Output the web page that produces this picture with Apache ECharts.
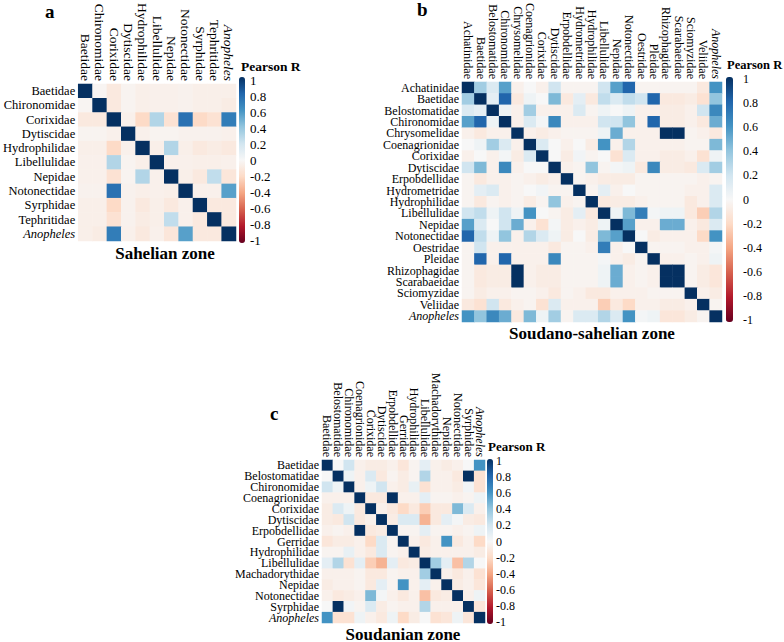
<!DOCTYPE html>
<html>
<head>
<meta charset="utf-8">
<title>Pearson R heatmaps</title>
<script src="https://cdn.jsdelivr.net/npm/echarts@6/dist/echarts.min.js"></script>
<style>
  html, body { margin: 0; padding: 0; background: #fff; }
  #main { width: 784px; height: 642px; }
</style>
</head>
<body>
<div id="main"></div>
<script>
// taxa names per zone
var sahelianTaxa = ['Baetidae', 'Chironomidae', 'Corixidae', 'Dytiscidae', 'Hydrophilidae', 'Libellulidae',
    'Nepidae', 'Notonectidae', 'Syrphidae', 'Tephritidae', 'Anopheles'];
var soudanoSahelianTaxa = ['Achatinidae', 'Baetidae', 'Belostomatidae', 'Chironomidae', 'Chrysomelidae',
    'Coenagrionidae', 'Corixidae', 'Dytiscidae', 'Erpobdellidae', 'Hydrometridae', 'Hydrophilidae',
    'Libellulidae', 'Nepidae', 'Notonectidae', 'Oestridae', 'Pleidae', 'Rhizophagidae', 'Scarabaeidae',
    'Sciomyzidae', 'Veliidae', 'Anopheles'];
var soudanianTaxa = ['Baetidae', 'Belostomatidae', 'Chironomidae', 'Coenagrionidae', 'Corixidae', 'Dytiscidae',
    'Erpobdellidae', 'Gerridae', 'Hydrophilidae', 'Libellulidae', 'Machadorythidae', 'Nepidae',
    'Notonectidae', 'Syrphidae', 'Anopheles'];

// Pearson R matrices (rows = taxa, same order as columns)
var sahelianR = [
    [1, -0.02, -0.1, -0.03, -0.06, -0.05, -0.05, -0.04, -0.06, -0.06, -0.06],
    [-0.02, 1, -0.1, -0.03, -0.06, -0.05, -0.05, -0.04, -0.06, -0.06, -0.08],
    [-0.1, -0.1, 1, -0.05, -0.2, 0.3, -0.15, 0.75, -0.2, -0.15, 0.7],
    [-0.03, -0.03, -0.05, 1, -0.05, -0.03, -0.03, -0.04, -0.04, -0.04, -0.05],
    [-0.06, -0.06, -0.2, -0.05, 1, -0.06, 0.3, -0.06, -0.1, -0.08, -0.1],
    [-0.05, -0.05, 0.3, -0.03, -0.06, 1, -0.05, -0.05, -0.06, -0.06, -0.05],
    [-0.05, -0.05, -0.15, -0.03, 0.3, -0.05, 1, -0.06, -0.1, 0.25, -0.12],
    [-0.04, -0.04, 0.75, -0.04, -0.06, -0.05, -0.06, 1, -0.05, -0.05, 0.55],
    [-0.06, -0.06, -0.2, -0.04, -0.1, -0.06, -0.1, -0.05, 1, -0.1, -0.1],
    [-0.06, -0.06, -0.15, -0.04, -0.08, -0.06, 0.25, -0.05, -0.1, 1, -0.1],
    [-0.06, -0.08, 0.7, -0.05, -0.1, -0.05, -0.12, 0.55, -0.1, -0.1, 1]
];
var soudanoSahelianR = [
    [1, 0.35, 0.15, 0.55, -0.05, 0, -0.05, 0.2, -0.03, -0.03, -0.03, 0.2, 0.55, 0.8, -0.03, -0.03, -0.03, -0.03, -0.03, -0.1, 0.6],
    [0.35, 1, 0.1, 0.8, -0.1, 0.05, 0, 0.45, -0.1, 0.1, -0.1, 0.25, 0.15, 0.25, 0.2, 0.8, -0.1, -0.1, -0.08, -0.15, 0.4],
    [0.15, 0.1, 1, 0.05, -0.05, 0.35, -0.05, -0.05, -0.05, 0.15, -0.03, 0.05, 0, 0.05, -0.05, -0.05, -0.08, -0.08, -0.05, 0.2, 0.65],
    [0.55, 0.8, 0.05, 1, -0.05, 0.15, 0.02, 0.65, -0.05, -0.05, -0.05, 0.2, 0.2, 0.4, -0.05, 0.8, -0.08, -0.08, -0.05, -0.1, 0.5],
    [-0.05, -0.1, -0.05, -0.05, 1, -0.05, -0.08, -0.05, -0.03, -0.03, -0.03, 0.05, 0.5, -0.05, -0.05, -0.05, 1, 1, -0.03, -0.05, -0.1],
    [0, 0.05, 0.35, 0.15, -0.05, 1, 0.15, 0, -0.05, 0, -0.08, 0.6, -0.05, 0.3, -0.05, -0.05, -0.05, -0.05, -0.03, -0.03, 0.45],
    [-0.05, 0, -0.05, 0.02, -0.08, 0.15, 1, 0, -0.08, 0.03, -0.03, 0, -0.15, 0.15, -0.05, -0.05, -0.08, -0.08, -0.05, -0.15, 0.05],
    [0.2, 0.45, -0.05, 0.65, -0.05, 0, 0, 1, -0.05, -0.03, 0.4, -0.03, 0.02, 0.05, -0.1, 0.65, -0.08, -0.08, -0.1, 0.15, 0.35],
    [-0.03, -0.1, -0.05, -0.05, -0.03, -0.05, -0.08, -0.05, 1, -0.03, -0.05, -0.08, -0.08, -0.08, -0.03, -0.03, -0.03, -0.03, -0.03, -0.05, -0.03],
    [-0.03, 0.1, 0.15, -0.05, -0.03, 0, 0.03, -0.03, -0.03, 1, -0.03, 0.1, -0.05, 0, -0.03, -0.03, -0.03, -0.03, -0.05, -0.05, 0.15],
    [-0.03, -0.1, -0.03, -0.05, -0.03, -0.08, -0.03, 0.4, -0.05, -0.03, 1, -0.1, -0.08, -0.08, -0.05, -0.03, -0.03, -0.03, -0.1, -0.05, 0.15],
    [0.2, 0.25, 0.05, 0.2, 0.05, 0.6, 0, -0.03, -0.08, 0.1, -0.1, 1, 0.05, 0.45, 0.7, 0.02, 0.05, 0.05, -0.1, -0.25, 0.3],
    [0.55, 0.15, 0, 0.2, 0.5, -0.05, -0.15, 0.02, -0.08, -0.05, -0.08, 0.05, 1, 0.55, -0.05, -0.05, 0.5, 0.5, -0.05, -0.1, 0.15],
    [0.8, 0.25, 0.05, 0.4, -0.05, 0.3, 0.15, 0.05, -0.08, 0, -0.08, 0.45, 0.55, 1, 0, -0.08, -0.05, -0.05, -0.05, -0.2, 0.6],
    [-0.03, 0.2, -0.05, -0.05, -0.05, -0.05, -0.05, -0.1, -0.03, -0.03, -0.05, 0.7, -0.05, 0, 1, -0.03, -0.03, -0.03, -0.05, -0.05, 0.02],
    [-0.03, 0.8, -0.05, 0.8, -0.05, -0.05, -0.05, 0.65, -0.03, -0.03, -0.03, 0.02, -0.05, -0.08, -0.03, 1, -0.05, -0.05, -0.03, -0.05, 0.05],
    [-0.03, -0.1, -0.08, -0.08, 1, -0.05, -0.08, -0.08, -0.03, -0.03, -0.03, 0.05, 0.5, -0.05, -0.03, -0.05, 1, 1, -0.03, -0.08, -0.12],
    [-0.03, -0.1, -0.08, -0.08, 1, -0.05, -0.08, -0.08, -0.03, -0.03, -0.03, 0.05, 0.5, -0.05, -0.03, -0.05, 1, 1, -0.03, -0.08, -0.12],
    [-0.03, -0.08, -0.05, -0.05, -0.03, -0.03, -0.05, -0.1, -0.03, -0.05, -0.1, -0.1, -0.05, -0.05, -0.05, -0.03, -0.03, -0.03, 1, -0.05, -0.08],
    [-0.1, -0.15, 0.2, -0.1, -0.05, -0.03, -0.15, 0.15, -0.05, -0.05, -0.05, -0.25, -0.1, -0.2, -0.05, -0.05, -0.08, -0.08, -0.05, 1, -0.03],
    [0.6, 0.4, 0.65, 0.5, -0.1, 0.45, 0.05, 0.35, -0.03, 0.15, 0.15, 0.3, 0.15, 0.6, 0.02, 0.05, -0.12, -0.12, -0.08, -0.03, 1]
];
var soudanianR = [
    [1, 0, 0.2, -0.05, -0.08, -0.08, -0.05, -0.12, -0.03, 0.1, -0.05, -0.08, -0.05, 0, 0.6],
    [0, 1, 0.05, -0.05, 0.15, -0.1, -0.03, -0.08, -0.03, 0.3, -0.05, -0.05, -0.1, 1, -0.15],
    [0.2, 0.05, 1, -0.05, 0.05, 0.2, -0.05, -0.08, 0.08, -0.15, -0.05, -0.05, -0.08, 0.03, -0.15],
    [-0.05, -0.05, -0.05, 1, -0.1, -0.1, 1, -0.05, -0.05, 0.1, -0.03, -0.03, -0.05, -0.03, 0.05],
    [-0.08, 0.15, 0.05, -0.1, 1, -0.05, -0.1, -0.2, -0.1, -0.25, -0.1, -0.1, 0.45, 0.15, -0.05],
    [-0.08, -0.1, 0.2, -0.1, -0.05, 1, -0.08, 0.15, 0.15, -0.35, -0.1, 0.1, 0.02, -0.08, -0.1],
    [-0.05, -0.03, -0.05, 1, -0.1, -0.08, 1, -0.03, -0.03, 0.1, -0.03, -0.03, -0.05, -0.03, 0.05],
    [-0.12, -0.08, -0.08, -0.05, -0.2, 0.15, -0.03, 1, -0.05, -0.1, -0.05, 0.6, -0.1, -0.05, -0.2],
    [-0.03, -0.03, 0.08, -0.05, -0.1, 0.15, -0.03, -0.05, 1, -0.08, -0.05, -0.05, -0.05, -0.05, -0.08],
    [0.1, 0.3, -0.15, 0.1, -0.25, -0.35, 0.1, -0.1, -0.08, 1, 0.35, 0.1, -0.3, 0.3, 0],
    [-0.05, -0.05, -0.05, -0.03, -0.1, -0.1, -0.03, -0.05, -0.05, 0.35, 1, -0.05, -0.1, -0.05, -0.15],
    [-0.08, -0.05, -0.05, -0.03, -0.1, 0.1, -0.03, 0.6, -0.05, 0.1, -0.05, 1, -0.08, -0.05, -0.12],
    [-0.05, -0.1, -0.08, -0.05, 0.45, 0.02, -0.05, -0.1, -0.05, -0.3, -0.1, -0.08, 1, -0.05, 0.05],
    [0, 1, 0.03, -0.03, 0.15, -0.08, -0.03, -0.05, -0.05, 0.3, -0.05, -0.05, -0.05, 1, -0.12],
    [0.6, -0.15, -0.15, 0.05, -0.05, -0.1, 0.05, -0.2, -0.08, 0, -0.15, -0.12, 0.05, -0.12, 1]
];

var zoneTitles = ['Sahelian zone', 'Soudano-sahelian zone', 'Soudanian zone'];
var panelLetters = ['a', 'b', 'c'];
var colorbarTitle = 'Pearson R';
var rdBu = ['#67001f', '#b2182b', '#d6604d', '#f4a582', '#fddbc7', '#f7f7f7',
    '#d1e5f0', '#92c5de', '#4393c3', '#2166ac', '#053061'];

var serif = 'Liberation Serif';

// matrix -> [x, y, value]
function toCells(m) {
    var out = [];
    for (var i = 0; i < m.length; i++) {
        for (var j = 0; j < m[i].length; j++) {
            out.push([j, i, m[i][j]]);
        }
    }
    return out;
}

function taxonLabel(v) {
    return v === 'Anopheles' ? '{i|' + v + '}' : v;
}

// layout per panel: heatmap grid, colour bar, and the tick range inside the bar
var panels = [
    { names: sahelianTaxa, m: sahelianR, grid: { left: 72, top: 78, width: 164, height: 163 },
      bar: { left: 239, top: 77, width: 6, height: 166 }, ticks: { top: 80, height: 160 },
      fx: 13.5, fy: 12.5, lh: 13, fb: 13, tickLen: 2, margin: 5, cbTitle: [241, 59, 13.5] },
    { names: soudanoSahelianTaxa, m: soudanoSahelianR, grid: { left: 462, top: 79, width: 260, height: 243 },
      bar: { left: 726, top: 77, width: 7, height: 245 }, ticks: { top: 79, height: 241 },
      fx: 12, fy: 12, lh: 10, fb: 12, tickLen: 3, margin: 10, cbTitle: [727, 58, 12.5] },
    { names: soudanianTaxa, m: soudanianR, grid: { left: 322, top: 460, width: 163, height: 163 },
      bar: { left: 487, top: 459, width: 6, height: 165 }, ticks: { top: 461, height: 161 },
      fx: 12, fy: 12, lh: 9.5, fb: 12, tickLen: 0, margin: 3, cbTitle: [488, 440, 13] }
];

var grids = [], xAxes = [], yAxes = [], series = [], visualMaps = [], graphics = [];
panels.forEach(function (p, k) {
    var gi = grids.length;
    grids.push(p.grid);
    grids.push({ left: p.bar.left, top: p.ticks.top, width: p.bar.width, height: p.ticks.height });

    xAxes.push({
        type: 'category', gridIndex: gi, data: p.names, position: 'top',
        axisLine: { show: false }, axisTick: { show: false }, splitLine: { show: false },
        axisLabel: { interval: 0, rotate: 90, margin: 3, color: '#000', fontFamily: serif, fontSize: p.fx,
            lineHeight: p.lh, formatter: taxonLabel,
            rich: { i: { fontStyle: 'italic', fontFamily: serif, fontSize: p.fx, lineHeight: p.lh, color: '#000' } } }
    });
    yAxes.push({
        type: 'category', gridIndex: gi, data: p.names, inverse: true,
        axisLine: { show: false }, axisTick: { show: false }, splitLine: { show: false },
        axisLabel: { interval: 0, margin: 3, color: '#000', fontFamily: serif, fontSize: p.fy,
            lineHeight: p.lh, formatter: taxonLabel,
            rich: { i: { fontStyle: 'italic', fontFamily: serif, fontSize: p.fy, lineHeight: p.lh, color: '#000' } } }
    });
    // colour bar tick labels
    xAxes.push({ type: 'value', gridIndex: gi + 1, show: false, min: 0, max: 1 });
    yAxes.push({
        type: 'value', gridIndex: gi + 1, position: 'right', min: -1, max: 1, interval: 0.2,
        axisLine: { show: false }, splitLine: { show: false },
        axisTick: { show: p.tickLen > 0, length: p.tickLen, lineStyle: { color: '#555' } },
        axisLabel: { margin: p.margin, color: '#000', fontFamily: serif, fontSize: p.fb }
    });

    series.push({
        type: 'heatmap', xAxisIndex: gi, yAxisIndex: gi, data: toCells(p.m),
        itemStyle: { borderWidth: 0 }, emphasis: { disabled: true }
    });
    visualMaps.push({
        type: 'continuous', seriesIndex: k, min: -1, max: 1, calculable: false,
        orient: 'vertical', left: p.bar.left, top: p.bar.top, padding: 0,
        itemWidth: p.bar.width, itemHeight: p.bar.height, text: null, hoverLink: false,
        inRange: { color: rdBu }
    });
    graphics.push({ type: 'text', left: p.cbTitle[0], top: p.cbTitle[1],
        style: { text: colorbarTitle, font: 'bold ' + p.cbTitle[2] + 'px "Liberation Serif"', fill: '#000' } });
});

var letterFont = 'bold 19px "Liberation Serif"';
var titleFont = 'bold 17px "Liberation Serif"';
graphics.push(
    // panel letters
    { type: 'text', left: 45, top: 2, style: { text: panelLetters[0], font: letterFont, fill: '#000' } },
    { type: 'text', left: 417, top: 0, style: { text: panelLetters[1], font: letterFont, fill: '#000' } },
    { type: 'text', left: 270, top: 404, style: { text: panelLetters[2], font: letterFont, fill: '#000' } },
    // zone titles
    { type: 'text', x: 165, y: 253, style: { text: zoneTitles[0], font: titleFont, fill: '#000', align: 'center', verticalAlign: 'middle' } },
    { type: 'text', x: 592, y: 333, style: { text: zoneTitles[1], font: titleFont, fill: '#000', align: 'center', verticalAlign: 'middle' } },
    { type: 'text', x: 403, y: 634, style: { text: zoneTitles[2], font: titleFont, fill: '#000', align: 'center', verticalAlign: 'middle' } }
);

var myChart = echarts.init(document.getElementById('main'), null, { renderer: 'svg' });
myChart.setOption({
    animation: false,
    backgroundColor: '#fff',
    grid: grids,
    xAxis: xAxes,
    yAxis: yAxes,
    visualMap: visualMaps,
    series: series,
    graphic: graphics
});
</script>
</body>
</html>
